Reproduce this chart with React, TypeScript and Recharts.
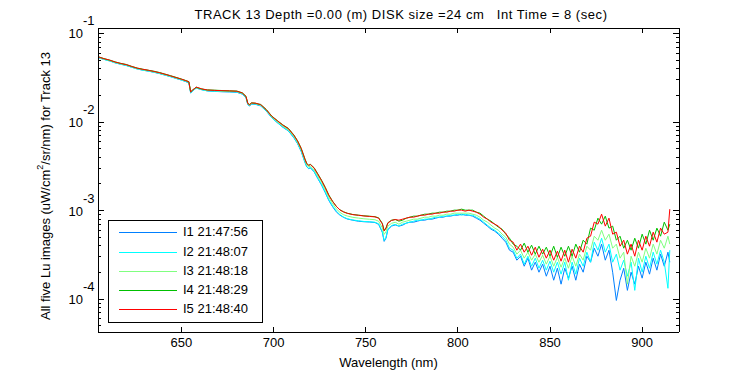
import { LineChart, Line, XAxis, YAxis } from 'recharts';

const wavelengths = [
  605, 608, 611, 614, 617, 620, 623, 626, 629, 632, 635, 638, 641, 644, 647, 650, 652, 654, 655, 656,
  658, 661, 664, 668, 672, 676, 680, 683, 685, 686, 687, 688, 690, 693, 696, 699, 702, 705, 708, 711,
  713, 715, 717, 718, 719, 720, 722, 724, 726, 728, 730, 732, 734, 736, 738, 740, 743, 746, 749, 752,
  755, 757, 759, 760, 761, 762, 764, 766,
  768, 770, 772, 774, 776, 778, 780, 782, 784, 786, 788, 790, 792, 794, 796, 798, 800, 802, 804, 806,
  808, 810, 812, 814, 816, 818, 820, 822, 824, 826, 828, 830, 832, 834, 836, 838, 840, 842, 844, 846,
  848, 850, 852, 854, 856, 858, 860, 862, 864, 866, 868, 870, 872, 874, 876, 878, 880, 882, 884, 886,
  888, 890, 892, 894, 896, 898, 900, 902, 904, 906, 908, 910, 912, 914, 915,
];

// I1 21:47:56
const lu1 = [
  5.32e-2, 5.1e-2, 4.9e-2, 4.66e-2, 4.5e-2, 4.35e-2, 4.16e-2, 3.98e-2, 3.85e-2, 3.76e-2,
  3.65e-2, 3.53e-2, 3.39e-2, 3.26e-2, 3.11e-2, 2.98e-2, 2.88e-2, 2.78e-2, 2.13e-2, 2.23e-2,
  2.42e-2, 2.32e-2, 2.25e-2, 2.22e-2, 2.2e-2, 2.19e-2, 2.17e-2, 2.07e-2, 1.89e-2, 1.57e-2,
  1.52e-2, 1.6e-2, 1.59e-2, 1.52e-2, 1.33e-2, 1.12e-2, 9.85e-3, 8.75e-3, 7.95e-3, 6.65e-3,
  5.7e-3, 4.65e-3, 3.5e-3, 3.12e-3, 2.98e-3, 3.04e-3, 2.74e-3, 2.3e-3, 1.95e-3, 1.6e-3,
  1.3e-3, 1.11e-3, 9.7e-4, 8.9e-4, 8.4e-4, 8.05e-4, 7.8e-4, 7.6e-4, 7.5e-4, 7.45e-4,
  7.35e-4, 7.0e-4, 5.7e-4, 4.5e-4, 4.9e-4, 6.1e-4, 6.7e-4, 6.9e-4,
  6.69e-4, 6.86e-4, 7.23e-4, 7.42e-4, 7.42e-4, 7.61e-4, 7.81e-4, 7.81e-4, 8.02e-4, 8.02e-4,
  8.23e-4, 8.44e-4, 8.44e-4, 8.67e-4, 8.67e-4, 8.89e-4, 8.89e-4, 9.13e-4, 8.89e-4, 8.89e-4,
  8.67e-4, 8.23e-4, 7.81e-4, 7.23e-4, 6.69e-4, 6.18e-4, 5.87e-4, 5.43e-4, 4.89e-4,
  4.41e-4, 3.58e-4, 3.4e-4, 2.76e-4, 3.06e-4, 2.36e-4, 2.91e-4, 2.13e-4, 2.62e-4, 2.02e-4,
  2.49e-4, 1.82e-4, 2.36e-4, 1.64e-4, 2.24e-4, 1.48e-4, 2.24e-4, 1.73e-4, 2.36e-4, 1.64e-4,
  2.49e-4, 2.02e-4, 3.06e-4, 2.62e-4, 3.77e-4, 3.06e-4, 4.19e-4, 2.76e-4, 3.58e-4, 2.02e-4,
  9.7e-5, 1.64e-4, 2.24e-4, 1.26e-4, 2.02e-4, 1.48e-4, 2.36e-4, 1.73e-4, 2.62e-4, 1.92e-4,
  2.91e-4, 2.13e-4, 3.23e-4, 2.36e-4, 3.4e-4, 2.62e-4,
];

// I2 21:48:07
const lu2 = [
  5.33e-2, 5.09e-2, 4.91e-2, 4.67e-2, 4.5e-2, 4.36e-2, 4.17e-2, 3.98e-2, 3.86e-2, 3.77e-2,
  3.66e-2, 3.54e-2, 3.4e-2, 3.26e-2, 3.12e-2, 2.99e-2, 2.89e-2, 2.79e-2, 2.14e-2, 2.24e-2,
  2.43e-2, 2.32e-2, 2.25e-2, 2.23e-2, 2.21e-2, 2.2e-2, 2.18e-2, 2.08e-2, 1.9e-2, 1.58e-2,
  1.53e-2, 1.6e-2, 1.6e-2, 1.53e-2, 1.34e-2, 1.12e-2, 9.9e-3, 8.8e-3, 8.0e-3, 6.7e-3,
  5.75e-3, 4.7e-3, 3.55e-3, 3.15e-3, 3.0e-3, 3.06e-3, 2.76e-3, 2.33e-3, 1.97e-3, 1.63e-3,
  1.32e-3, 1.13e-3, 9.9e-4, 9.0e-4, 8.45e-4, 8.1e-4, 7.85e-4, 7.7e-4, 7.55e-4, 7.5e-4,
  7.4e-4, 7.1e-4, 5.8e-4, 4.6e-4, 5.0e-4, 6.2e-4, 6.8e-4, 7.0e-4,
  6.69e-4, 7.04e-4, 7.23e-4, 7.42e-4, 7.61e-4, 7.81e-4, 7.81e-4, 8.02e-4, 8.02e-4, 8.23e-4,
  8.44e-4, 8.44e-4, 8.67e-4, 8.67e-4, 8.89e-4, 8.89e-4, 9.13e-4, 8.89e-4, 9.13e-4, 8.89e-4,
  8.89e-4, 8.44e-4, 8.02e-4, 7.42e-4, 6.86e-4, 6.35e-4, 6.02e-4, 5.57e-4, 5.15e-4,
  4.64e-4, 3.77e-4, 3.58e-4, 2.91e-4, 3.23e-4, 2.49e-4, 3.06e-4, 2.36e-4, 2.91e-4, 2.24e-4,
  2.76e-4, 2.13e-4, 2.69e-4, 2.02e-4, 2.62e-4, 1.92e-4, 2.62e-4, 1.64e-4, 2.62e-4, 1.92e-4,
  2.91e-4, 2.36e-4, 3.4e-4, 2.62e-4, 4.41e-4, 3.58e-4, 4.89e-4, 3.4e-4, 4.19e-4, 2.62e-4,
  3.23e-4, 2.13e-4, 2.76e-4, 1.82e-4, 2.62e-4, 1.26e-4, 2.91e-4, 2.02e-4, 3.06e-4, 2.24e-4,
  3.4e-4, 2.49e-4, 3.58e-4, 2.62e-4, 1.33e-4, 3.58e-4,
];

// I3 21:48:18
const lu3 = [
  5.38e-2, 5.14e-2, 4.96e-2, 4.71e-2, 4.55e-2, 4.41e-2, 4.21e-2, 4.02e-2, 3.9e-2, 3.81e-2,
  3.69e-2, 3.57e-2, 3.43e-2, 3.3e-2, 3.15e-2, 3.02e-2, 2.92e-2, 2.82e-2, 2.17e-2, 2.27e-2,
  2.45e-2, 2.35e-2, 2.28e-2, 2.26e-2, 2.24e-2, 2.23e-2, 2.21e-2, 2.11e-2, 1.93e-2, 1.6e-2,
  1.55e-2, 1.62e-2, 1.62e-2, 1.55e-2, 1.36e-2, 1.14e-2, 1.01e-2, 9.0e-3, 8.2e-3, 6.9e-3,
  5.9e-3, 4.85e-3, 3.68e-3, 3.28e-3, 3.12e-3, 3.18e-3, 2.88e-3, 2.45e-3, 2.08e-3, 1.73e-3,
  1.4e-3, 1.2e-3, 1.05e-3, 9.55e-4, 9.0e-4, 8.7e-4, 8.4e-4, 8.25e-4, 8.1e-4, 8.0e-4,
  7.9e-4, 7.6e-4, 6.4e-4, 5.4e-4, 5.8e-4, 6.7e-4, 7.2e-4, 7.4e-4,
  7.04e-4, 7.42e-4, 7.61e-4, 7.81e-4, 8.02e-4, 8.02e-4, 8.23e-4, 8.44e-4, 8.44e-4, 8.67e-4,
  8.67e-4, 8.89e-4, 8.89e-4, 9.13e-4, 9.13e-4, 9.37e-4, 9.37e-4, 9.37e-4, 9.37e-4, 9.37e-4,
  9.13e-4, 8.89e-4, 8.44e-4, 7.81e-4, 7.42e-4, 6.86e-4, 6.35e-4, 6.02e-4, 5.43e-4,
  5.02e-4, 4.19e-4, 3.87e-4, 3.23e-4, 3.58e-4, 2.91e-4, 3.4e-4, 2.76e-4, 3.23e-4, 2.62e-4,
  3.14e-4, 2.49e-4, 3.06e-4, 2.36e-4, 2.98e-4, 2.3e-4, 2.91e-4, 2.24e-4, 3.06e-4, 2.36e-4,
  3.23e-4, 2.76e-4, 3.97e-4, 3.58e-4, 5.15e-4, 4.64e-4, 6.02e-4, 4.64e-4, 5.43e-4, 3.77e-4,
  4.19e-4, 2.91e-4, 3.4e-4, 1.48e-4, 3.06e-4, 2.36e-4, 3.4e-4, 2.62e-4, 3.77e-4, 2.91e-4,
  4.19e-4, 3.23e-4, 4.64e-4, 3.77e-4, 5.15e-4, 4.19e-4,
];

// I4 21:48:29
const lu4 = [
  5.45e-2, 5.2e-2, 5.0e-2, 4.78e-2, 4.6e-2, 4.47e-2, 4.24e-2, 4.07e-2, 3.95e-2, 3.84e-2,
  3.75e-2, 3.63e-2, 3.48e-2, 3.34e-2, 3.2e-2, 3.06e-2, 2.96e-2, 2.86e-2, 2.2e-2, 2.3e-2,
  2.47e-2, 2.36e-2, 2.31e-2, 2.29e-2, 2.27e-2, 2.25e-2, 2.24e-2, 2.14e-2, 1.96e-2, 1.63e-2,
  1.58e-2, 1.65e-2, 1.63e-2, 1.58e-2, 1.39e-2, 1.17e-2, 1.04e-2, 9.3e-3, 8.5e-3, 7.15e-3,
  6.15e-3, 5.05e-3, 3.85e-3, 3.42e-3, 3.26e-3, 3.33e-3, 3.05e-3, 2.6e-3, 2.21e-3, 1.84e-3,
  1.5e-3, 1.28e-3, 1.12e-3, 1.02e-3, 9.7e-4, 9.35e-4, 9.05e-4, 8.9e-4, 8.75e-4, 8.66e-4,
  8.55e-4, 8.3e-4, 7.2e-4, 6.0e-4, 6.4e-4, 7.3e-4, 7.8e-4, 7.95e-4,
  7.61e-4, 7.81e-4, 8.23e-4, 8.44e-4, 8.67e-4, 8.67e-4, 8.89e-4, 9.13e-4, 9.13e-4, 9.37e-4,
  9.37e-4, 9.62e-4, 9.62e-4, 9.87e-4, 9.87e-4, 1.013e-3, 1.013e-3, 1.04e-3, 1.013e-3, 1.013e-3,
  1.013e-3, 9.62e-4, 9.37e-4, 8.67e-4, 8.02e-4, 7.61e-4, 7.04e-4, 6.51e-4, 6.18e-4,
  5.43e-4, 4.89e-4, 4.19e-4, 3.97e-4, 3.58e-4, 4.3e-4, 3.4e-4, 4.08e-4, 3.23e-4, 3.97e-4,
  3.23e-4, 3.87e-4, 3.06e-4, 3.97e-4, 2.98e-4, 3.87e-4, 3.06e-4, 3.97e-4, 3.06e-4, 4.19e-4,
  3.4e-4, 4.64e-4, 4.19e-4, 6.35e-4, 6.02e-4, 8.23e-4, 7.04e-4, 8.67e-4, 6.35e-4, 6.69e-4,
  4.64e-4, 5.15e-4, 3.77e-4, 4.64e-4, 3.58e-4, 4.89e-4, 3.77e-4, 5.43e-4, 4.19e-4, 6.02e-4,
  4.64e-4, 6.35e-4, 5.15e-4, 7.42e-4, 6.02e-4, 7.04e-4,
];

// I5 21:48:40
const lu5 = [
  5.43e-2, 5.19e-2, 5.01e-2, 4.76e-2, 4.59e-2, 4.45e-2, 4.25e-2, 4.06e-2, 3.94e-2, 3.85e-2,
  3.73e-2, 3.61e-2, 3.47e-2, 3.33e-2, 3.18e-2, 3.05e-2, 2.95e-2, 2.85e-2, 2.19e-2, 2.29e-2,
  2.48e-2, 2.37e-2, 2.3e-2, 2.28e-2, 2.26e-2, 2.25e-2, 2.23e-2, 2.13e-2, 1.95e-2, 1.62e-2,
  1.57e-2, 1.64e-2, 1.64e-2, 1.57e-2, 1.38e-2, 1.16e-2, 1.035e-2, 9.23e-3, 8.41e-3, 7.08e-3,
  6.1e-3, 5.01e-3, 3.8e-3, 3.39e-3, 3.24e-3, 3.31e-3, 3.02e-3, 2.57e-3, 2.19e-3, 1.82e-3,
  1.48e-3, 1.27e-3, 1.12e-3, 1.02e-3, 9.66e-4, 9.33e-4, 9.02e-4, 8.87e-4, 8.71e-4, 8.61e-4,
  8.51e-4, 8.22e-4, 7.08e-4, 5.89e-4, 6.31e-4, 7.24e-4, 7.76e-4, 7.94e-4,
  7.81e-4, 8.02e-4, 8.23e-4, 8.44e-4, 8.44e-4, 8.67e-4, 8.89e-4, 8.89e-4, 9.13e-4, 9.13e-4,
  9.37e-4, 9.37e-4, 9.62e-4, 9.62e-4, 9.87e-4, 9.87e-4, 1.013e-3, 1.013e-3, 9.87e-4, 1.013e-3,
  9.87e-4, 9.62e-4, 9.13e-4, 8.44e-4, 8.02e-4, 7.42e-4, 7.04e-4, 6.69e-4, 6.02e-4,
  5.57e-4, 4.64e-4, 4.41e-4, 3.58e-4, 4.19e-4, 3.4e-4, 3.97e-4, 3.14e-4, 3.87e-4, 2.98e-4,
  3.67e-4, 2.91e-4, 3.58e-4, 2.76e-4, 3.49e-4, 2.69e-4, 3.58e-4, 2.62e-4, 3.67e-4, 2.91e-4,
  3.97e-4, 3.4e-4, 4.89e-4, 5.15e-4, 7.42e-4, 7.04e-4, 9.13e-4, 6.69e-4, 8.23e-4, 5.43e-4,
  5.72e-4, 3.97e-4, 4.64e-4, 3.23e-4, 4.19e-4, 3.06e-4, 4.64e-4, 3.58e-4, 5.15e-4, 3.97e-4,
  5.72e-4, 4.41e-4, 6.35e-4, 5.43e-4, 5.72e-4, 1.04e-3,
];

const seriesNames = ['I1 21:47:56', 'I2 21:48:07', 'I3 21:48:18', 'I4 21:48:29', 'I5 21:48:40'];
const seriesKeys = ['lu1', 'lu2', 'lu3', 'lu4', 'lu5'];
const seriesColors = ['#0080ff', '#00ffff', '#80ff80', '#00c000', '#ff0000'];

const xTicks = [650, 700, 750, 800, 850, 900];
const yMajor = [1e-4, 1e-3, 1e-2, 1e-1];
const yMinorMult = [2, 3, 4, 5, 6, 7, 8, 9];
const xDomain = [604.7, 920];
const yDomain = [4.27e-5, 0.1153];

const yTicks: number[] = [];
[1e-5, 1e-4, 1e-3, 1e-2, 1e-1].forEach((d) => {
  if (d >= yDomain[0] && d <= yDomain[1]) yTicks.push(d);
  yMinorMult.forEach((m) => {
    const v = d * m;
    if (v >= yDomain[0] && v <= yDomain[1]) yTicks.push(v);
  });
});

const data = wavelengths.map((w, i) => ({
  w,
  lu1: lu1[i],
  lu2: lu2[i],
  lu3: lu3[i],
  lu4: lu4[i],
  lu5: lu5[i],
}));

const FONT = '"Liberation Sans", Arial, Helvetica, sans-serif';
const isMajor = (v: number) => yMajor.some((m) => Math.abs(m - v) / m < 1e-6);

function BottomTick(props: any) {
  const { x, y, payload } = props;
  return (
    <g>
      <line x1={x} y1={y} x2={x} y2={y - 5} stroke="#000" shapeRendering="crispEdges" />
      <text x={x} y={y + 15} textAnchor="middle" fontFamily={FONT} fontSize={13} fill="#000">
        {payload.value}
      </text>
    </g>
  );
}

function TopTick(props: any) {
  const { x, y } = props;
  return <line x1={x} y1={y} x2={x} y2={y + 5} stroke="#000" shapeRendering="crispEdges" />;
}

function LeftTick(props: any) {
  const { x, y, payload } = props;
  const v = payload.value;
  const major = isMajor(v);
  return (
    <g>
      <line x1={x} y1={y} x2={x + (major ? 6 : 3)} y2={y} stroke="#000" shapeRendering="crispEdges" />
      {major && (
        <>
          <text x={x - 15} y={y + 5} textAnchor="end" fontFamily={FONT} fontSize={13} fill="#000">
            10
          </text>
          <text x={x - 15} y={y - 8} textAnchor="start" fontFamily={FONT} fontSize={13} fill="#000">
            {Math.round(Math.log10(v))}
          </text>
        </>
      )}
    </g>
  );
}

function RightTick(props: any) {
  const { x, y, payload } = props;
  const major = isMajor(payload.value);
  return <line x1={x} y1={y} x2={x - (major ? 6 : 3)} y2={y} stroke="#000" shapeRendering="crispEdges" />;
}

const legendRowTops = [11, 31, 50, 69, 88];

export default function App() {
  const axisLine = { stroke: '#000', shapeRendering: 'crispEdges' };
  return (
    <div style={{ position: 'absolute', left: 0, top: 0, width: 750, height: 375, background: '#fff', fontFamily: FONT }}>
      <LineChart width={750} height={375} data={data} margin={{ top: 27, right: 70, bottom: 0, left: 0 }}>
        <XAxis
          dataKey="w"
          type="number"
          domain={xDomain}
          allowDataOverflow
          ticks={xTicks}
          interval={0}
          height={43}
          tickSize={0}
          tickMargin={0}
          tickLine={false}
          axisLine={axisLine}
          tick={BottomTick}
        />
        <XAxis
          xAxisId="top"
          orientation="top"
          dataKey="w"
          type="number"
          domain={xDomain}
          allowDataOverflow
          ticks={xTicks}
          interval={0}
          height={1}
          tickSize={0}
          tickMargin={0}
          tickLine={false}
          axisLine={axisLine}
          tick={TopTick}
        />
        <YAxis
          type="number"
          scale="log"
          domain={yDomain}
          allowDataOverflow
          ticks={yTicks}
          interval={0}
          width={98}
          tickSize={0}
          tickMargin={0}
          tickLine={false}
          axisLine={axisLine}
          tick={LeftTick}
        />
        <YAxis
          yAxisId="right"
          orientation="right"
          type="number"
          scale="log"
          domain={yDomain}
          allowDataOverflow
          ticks={yTicks}
          interval={0}
          width={1}
          tickSize={0}
          tickMargin={0}
          tickLine={false}
          axisLine={axisLine}
          tick={RightTick}
        />
        {seriesKeys.map((k, i) => (
          <Line
            key={k}
            dataKey={k}
            name={seriesNames[i]}
            xAxisId={i === 4 ? 'top' : 0}
            yAxisId={i === 4 ? 'right' : 0}
            stroke={seriesColors[i]}
            strokeWidth={1}
            dot={false}
            type="linear"
            isAnimationActive={false}
          />
        ))}
      </LineChart>

      <div style={{ position: 'absolute', left: 0, top: 7, width: 802, textAlign: 'center', fontSize: 13, letterSpacing: 0.55, whiteSpace: 'pre', color: '#000' }}>
        {'TRACK 13 Depth =0.00 (m) DISK size =24 cm   Int Time = 8 (sec)'}
      </div>
      <div style={{ position: 'absolute', left: 98, top: 355, width: 581, textAlign: 'center', fontSize: 13, color: '#000' }}>
        Wavelength (nm)
      </div>
      <div
        style={{
          position: 'absolute',
          left: 45,
          top: 186,
          transform: 'translate(-50%, -50%) rotate(-90deg)',
          whiteSpace: 'nowrap',
          fontSize: 13,
          color: '#000',
        }}
      >
        All five Lu images (uW/cm<sup style={{ fontSize: 9, verticalAlign: 'top', position: 'relative', top: -3 }}>2</sup>/sr/nm) for Track 13
      </div>

      <div
        style={{
          position: 'absolute',
          left: 108,
          top: 220,
          width: 153,
          height: 101,
          border: '1px solid #000',
          background: '#fff',
        }}
      >
        {seriesNames.map((n, i) => (
          <div key={n}>
            <div style={{ position: 'absolute', left: 10, top: legendRowTops[i], width: 58, height: 1, background: seriesColors[i] }} />
            <div
              style={{
                position: 'absolute',
                left: 74,
                top: legendRowTops[i] - 8,
                height: 16,
                lineHeight: '16px',
                fontSize: 13,
                color: '#000',
                whiteSpace: 'nowrap',
              }}
            >
              {n}
            </div>
          </div>
        ))}
      </div>
    </div>
  );
}
